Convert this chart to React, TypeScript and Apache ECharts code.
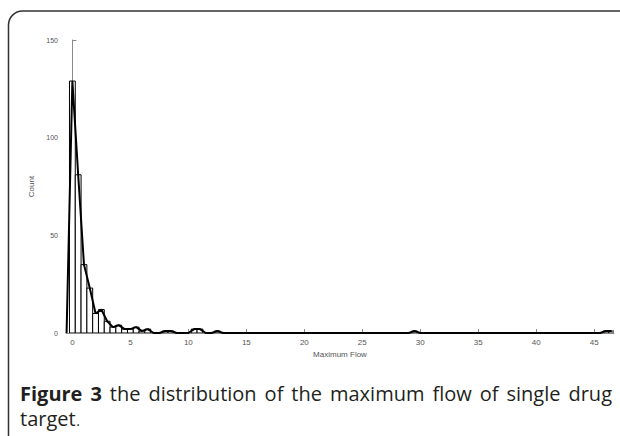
import React, { useEffect, useRef } from "react";
import * as echarts from "echarts";

// Histogram of maximum flow (bin centres, bin width 0.5) and counts
const binWidth = 0.5;
const flowBins = [0, 0.5, 1, 1.5, 2, 2.5, 3, 3.5, 4, 4.5, 5, 5.5, 6, 6.5, 8, 8.5, 10.5, 11, 12.5, 29.5, 46, 46.5];
const counts = [129, 81, 35, 23, 10, 12, 6, 3, 4, 2, 2, 3, 1, 2, 1, 1, 2, 2, 1, 1, 1, 1];
const xTicks = [0, 5, 10, 15, 20, 25, 30, 35, 40, 45];
const xRange = [-0.55, 46.7];

const captionBold = ["Figure", "3"];
const captionLine1 = ["the", "distribution", "of", "the", "maximum", "flow", "of", "single", "drug"];
const captionLine2 = "target";

export default function App() {
  const ref = useRef<HTMLDivElement>(null);
  useEffect(() => {
    if (!ref.current) return;
    const chart = echarts.init(ref.current, null, { renderer: "svg" });

    // full grid of bins (including empty ones) for the outline line
    const lineData: number[][] = [];
    const nBins = Math.round((flowBins[flowBins.length - 1] + binWidth) / binWidth) + 1;
    for (let i = 0; i < nBins; i++) {
      const c = -binWidth + i * binWidth;
      const idx = flowBins.findIndex((b) => Math.abs(b - c) < 1e-6);
      lineData.push([c, idx >= 0 ? counts[idx] : 0]);
    }
    const barData = flowBins.map((b, i) => [b, counts[i]]);

    // justified caption line 1
    const fs = 20;
    const fam = "Open Sans";
    const ctx = document.createElement("canvas").getContext("2d")!;
    const words = [
      ...captionBold.map((w) => ({ w, bold: true })),
      ...captionLine1.map((w) => ({ w, bold: false })),
    ];
    const widths = words.map((o) => {
      ctx.font = `${o.bold ? "bold " : ""}${fs}px "${fam}"`;
      return ctx.measureText(o.w).width;
    });
    const left = 20;
    const right = 612;
    const total = widths.reduce((a, b) => a + b, 0);
    const gap = (right - left - total) / (words.length - 1);
    const captionEls: any[] = [];
    let cx = left;
    words.forEach((o, i) => {
      captionEls.push({
        type: "text",
        x: cx,
        y: 393,
        silent: true,
        style: {
          text: o.w,
          fontSize: fs,
          fontFamily: fam,
          fontWeight: o.bold ? "bold" : "normal",
          fill: "#231f20",
          verticalAlign: "middle",
        },
      });
      cx += widths[i] + gap;
    });
    ctx.font = `${fs}px "${fam}"`;
    const w2 = ctx.measureText(captionLine2).width;
    captionEls.push({
      type: "text",
      x: left,
      y: 418,
      silent: true,
      style: {
        text: captionLine2,
        fontSize: fs,
        fontFamily: fam,
        fill: "#231f20",
        verticalAlign: "middle",
      },
    });
    captionEls.push({
      type: "text",
      x: left + w2 + 0.5,
      y: 427.5,
      silent: true,
      style: {
        text: ".",
        fontSize: 14,
        fontFamily: fam,
        fill: "#231f20",
        verticalAlign: "bottom",
      },
    });

    const axisColor = "#8a8a8a";
    const labelColor = "#555";
    chart.setOption({
      animation: false,
      grid: { left: 66, right: 6, top: 40, bottom: 103 },
      xAxis: {
        type: "value",
        min: xRange[0],
        max: xRange[1],
        name: "Maximum Flow",
        nameLocation: "middle",
        nameGap: 17,
        nameTextStyle: { color: labelColor, fontSize: 8, fontFamily: "Liberation Sans" },
        axisLine: { show: true, lineStyle: { color: axisColor, width: 1 } },
        axisTick: { show: true, inside: true, length: 4, customValues: xTicks, lineStyle: { color: axisColor } },
        axisLabel: { customValues: xTicks, color: labelColor, fontSize: 8, margin: 5, fontFamily: "Liberation Sans" },
        splitLine: { show: false },
      },
      yAxis: {
        type: "value",
        min: 0,
        max: 150,
        interval: 50,
        name: "Count",
        nameLocation: "middle",
        nameGap: 20,
        nameTextStyle: { color: labelColor, fontSize: 8, fontFamily: "Liberation Sans" },
        axisLine: { show: true, lineStyle: { color: axisColor, width: 1 } },
        axisTick: { show: true, inside: true, length: 4, lineStyle: { color: axisColor } },
        axisLabel: { color: labelColor, fontSize: 7, margin: 8, fontFamily: "Liberation Sans" },
        splitLine: { show: false },
      },
      series: [
        {
          type: "custom",
          clip: true,
          data: barData,
          renderItem: (params: any, api: any) => {
            const x = api.value(0);
            const y = api.value(1);
            const p0 = api.coord([x - binWidth / 2, y]);
            const p1 = api.coord([x + binWidth / 2, 0]);
            return {
              type: "rect",
              shape: { x: p0[0], y: p0[1], width: p1[0] - p0[0], height: p1[1] - p0[1] },
              style: { fill: "#ffffff", stroke: "#000000", lineWidth: 1 },
            };
          },
          z: 2,
        },
        {
          type: "line",
          data: lineData,
          showSymbol: false,
          clip: true,
          lineStyle: { color: "#000000", width: 2 },
          z: 3,
        },
      ],
      graphic: [
        {
          type: "rect",
          silent: true,
          shape: { x: 8.5, y: 11, width: 640, height: 440, r: [14, 0, 0, 14] },
          style: { fill: "none", stroke: "#333", lineWidth: 1.5 },
        },
        ...captionEls,
      ],
    });
    return () => chart.dispose();
  }, []);
  return (
    <div
      ref={ref}
      style={{ position: "absolute", left: 0, top: 0, width: 620, height: 436 }}
    />
  );
}
